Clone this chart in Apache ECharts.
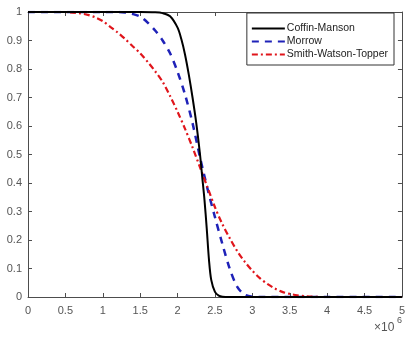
<!DOCTYPE html>
<html>
<head>
<meta charset="utf-8">
<script src="https://cdn.jsdelivr.net/npm/echarts@6/dist/echarts.min.js"></script>
<style>html,body{margin:0;padding:0;background:#fff}#c{width:408px;height:339px}</style>
</head>
<body>
<div id="c"></div>
<script>
// x in units of 10^6 cycles
const seriesNames = ['Coffin-Manson', 'Morrow', 'Smith-Watson-Topper'];
const xTicks = ['0','0.5','1','1.5','2','2.5','3','3.5','4','4.5','5'];
const yTicks = ['0','0.1','0.2','0.3','0.4','0.5','0.6','0.7','0.8','0.9','1'];

const cmX = [0, 0.5, 1.0, 1.5, 1.7, 1.8, 1.9, 2.0, 2.05, 2.1, 2.15, 2.2, 2.25, 2.3, 2.33, 2.36, 2.39, 2.42, 2.45, 2.5, 2.55, 2.6, 2.7, 3.0, 4.0, 5.0];
const cmY = [1, 1, 1, 1, 0.999, 0.996, 0.985, 0.945, 0.905, 0.85, 0.78, 0.70, 0.61, 0.50, 0.42, 0.34, 0.24, 0.13, 0.06, 0.018, 0.005, 0.001, 0, 0, 0, 0];

const moX = [0, 0.5, 1.0, 1.2, 1.3, 1.4, 1.5, 1.6, 1.7, 1.8, 1.9, 2.0, 2.1, 2.2, 2.3, 2.4, 2.5, 2.6, 2.7, 2.8, 2.9, 3.0, 3.1, 4.0, 5.0];
const moY = [1, 1, 1, 1, 0.998, 0.993, 0.984, 0.963, 0.935, 0.90, 0.855, 0.79, 0.71, 0.61, 0.49, 0.38, 0.28, 0.185, 0.097, 0.035, 0.008, 0.001, 0, 0, 0];

const swX = [0, 0.5, 0.6, 0.7, 0.8, 0.9, 1.0, 1.1, 1.2, 1.3, 1.4, 1.5, 1.6, 1.7, 1.8, 1.9, 2.0, 2.1, 2.2, 2.3, 2.4, 2.5, 2.6, 2.7, 2.8, 2.9, 3.0, 3.1, 3.2, 3.3, 3.4, 3.5, 3.6, 3.7, 3.8, 3.9, 4.0, 5.0];
const swY = [1, 1, 0.998, 0.995, 0.99, 0.981, 0.968, 0.948, 0.928, 0.905, 0.88, 0.855, 0.825, 0.792, 0.755, 0.705, 0.65, 0.59, 0.525, 0.455, 0.385, 0.315, 0.255, 0.205, 0.16, 0.123, 0.092, 0.066, 0.046, 0.03, 0.018, 0.011, 0.006, 0.003, 0.001, 0, 0, 0];

const zip = (xs, ys) => xs.map((x, i) => [x, ys[i]]);
const font = "'Liberation Sans', Arial, Helvetica, sans-serif";
const axisColor = '#4d4d4d';

const chart = echarts.init(document.getElementById('c'), null, {renderer: 'canvas'});
const baseAxis = {
  axisLine: {show: true, onZero: false, lineStyle: {color: axisColor, width: 1}},
  axisTick: {show: true, inside: true, length: 4, lineStyle: {color: axisColor}},
  splitLine: {show: false}
};
chart.setOption({
  animation: false,
  backgroundColor: '#fff',
  grid: {left: 28, right: 5, top: 12, bottom: 42, containLabel: false},
  xAxis: [
    Object.assign({}, baseAxis, {type: 'value', min: 0, max: 5, interval: 0.5, position: 'bottom',
      axisLabel: {color: '#555', fontSize: 11, fontFamily: font, margin: 8,
        formatter: v => xTicks[Math.round(v / 0.5)]}}),
    Object.assign({}, baseAxis, {type: 'value', min: 0, max: 5, interval: 0.5, position: 'top',
      axisLabel: {show: false}})
  ],
  yAxis: [
    Object.assign({}, baseAxis, {type: 'value', min: 0, max: 1, interval: 0.1, position: 'left',
      axisLabel: {color: '#555', fontSize: 11, fontFamily: font, margin: 6,
        formatter: v => yTicks[Math.round(v * 10)]}}),
    Object.assign({}, baseAxis, {type: 'value', min: 0, max: 1, interval: 0.1, position: 'right',
      axisLabel: {show: false}})
  ],
  legend: {
    orient: 'vertical', right: 14, top: 13,
    data: seriesNames,
    backgroundColor: '#fff', borderColor: '#333', borderWidth: 1,
    padding: [10, 6, 5, 4], itemGap: 2, itemWidth: 33, itemHeight: 11,
    itemStyle: {opacity: 0},
    textStyle: {fontSize: 10.5, color: '#222', fontFamily: font, padding: [0, 0, 0, -3]}
  },
  series: [
    {name: seriesNames[0], type: 'line', data: zip(cmX, cmY), showSymbol: false, symbol: 'none',
      smooth: 0.3, lineStyle: {color: '#000', width: 2, type: 'solid'}, itemStyle: {color: '#000'}, z: 3},
    {name: seriesNames[1], type: 'line', data: zip(moX, moY), showSymbol: false, symbol: 'none',
      smooth: 0.3, lineStyle: {color: '#1f22b8', width: 2.5, type: [7, 6]}, itemStyle: {color: '#1f22b8'}, z: 2},
    {name: seriesNames[2], type: 'line', data: zip(swX, swY), showSymbol: false, symbol: 'none',
      smooth: 0.3, lineStyle: {color: '#e0151b', width: 2.2, type: [6, 3, 2, 3]}, itemStyle: {color: '#e0151b'}, z: 2}
  ],
  graphic: [
    {type: 'text', left: 374, top: 322, style: {text: '×10', fill: '#555', font: '12px ' + font}},
    {type: 'text', left: 397, top: 316, style: {text: '6', fill: '#555', font: '9px ' + font}}
  ]
});
</script>
</body>
</html>
